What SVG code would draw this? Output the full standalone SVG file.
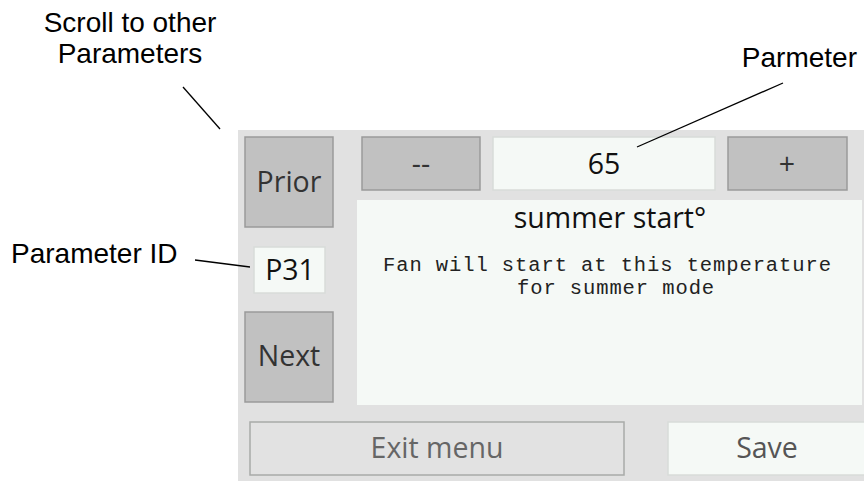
<svg xmlns="http://www.w3.org/2000/svg" width="864" height="481" viewBox="0 0 864 481">
<style>
.ann{font-family:"Liberation Sans",Arial,sans-serif;font-size:28px;fill:#000}
.ui{font-family:"Open Sans","Noto Sans",sans-serif;font-size:28.5px;text-anchor:middle}
.mono{font-family:"Liberation Mono","DejaVu Sans Mono",monospace;font-size:20.5px;letter-spacing:0.9px;fill:#222}
.btn{fill:#c1c1c1;stroke:#9a9a9a;stroke-width:1.5}
.box{fill:#f5f9f6;stroke:#d8dbd9;stroke-width:1.5}
.lead{stroke:#000;stroke-width:1.3;fill:none}
</style>
<rect width="864" height="481" fill="#fff"/>
<g id="panel"><rect x="238" y="130" width="630" height="355" fill="#e1e1e1"/></g>
<g id="prior"><rect class="btn" x="245" y="137" width="88" height="90"/><text class="ui" x="289" y="192" fill="#333">Prior</text></g>
<g id="minus"><rect class="btn" x="362" y="137" width="118" height="53"/><text class="ui" x="421" y="174" fill="#333">--</text></g>
<g id="value"><rect class="box" x="493" y="137" width="222" height="53"/><text class="ui" x="604" y="174" fill="#111">65</text></g>
<g id="plus"><rect class="btn" x="728" y="137" width="119" height="53"/><text class="ui" x="787" y="174" fill="#333">+</text></g>
<g id="pid"><rect class="box" x="254" y="247" width="71" height="46"/><text class="ui" x="290" y="280" fill="#111">P31</text></g>
<g id="next"><rect class="btn" x="245" y="312" width="88" height="90"/><text class="ui" x="289" y="366" fill="#333">Next</text></g>
<g id="desc"><rect x="357" y="200" width="505" height="205" fill="#f5f9f6"/>
<text class="ui" x="610" y="228" fill="#111">summer start°</text>
<text class="mono" x="383" y="271">Fan will start at this temperature</text>
<text class="mono" x="517" y="294">for summer mode</text></g>
<g id="exit"><rect x="250" y="422" width="374" height="53" fill="#e2e2e2" stroke="#a8aaa8" stroke-width="1.5"/><text class="ui" x="437" y="458" fill="#666">Exit menu</text></g>
<g id="save"><rect class="box" x="668" y="422" width="200" height="53"/><text class="ui" x="767" y="458" fill="#555">Save</text></g>
<g id="labels">
<text class="ann" x="130" y="32" text-anchor="middle">Scroll to other</text>
<text class="ann" x="130" y="63" text-anchor="middle">Parameters</text>
<text class="ann" x="857" y="67" text-anchor="end">Parmeter</text>
<text class="ann" x="11" y="263">Parameter ID</text>
</g>
<g id="connectors">
<line class="lead" x1="183" y1="87" x2="220" y2="129"/>
<line class="lead" x1="783" y1="83" x2="637" y2="147"/>
<line class="lead" x1="195" y1="260" x2="250" y2="267"/>
</g>
</svg>
